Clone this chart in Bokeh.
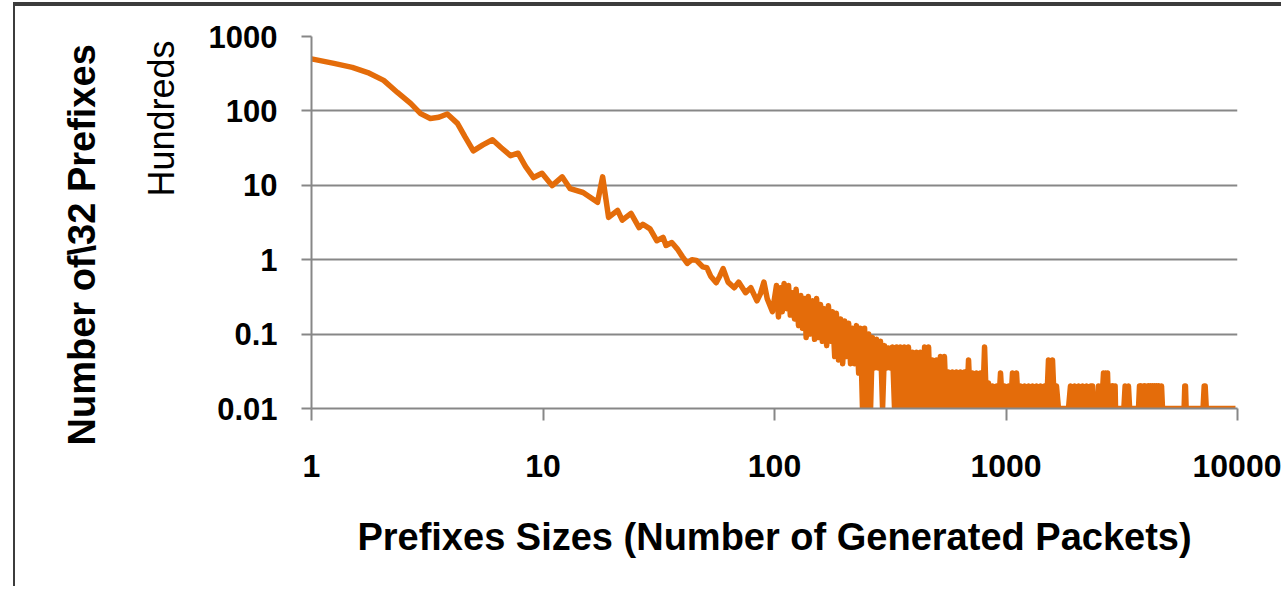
import math
from bokeh.plotting import figure
from bokeh.models import FixedTicker, Title, Range1d
from bokeh.embed import file_html
from bokeh.resources import INLINE

# ---- data: prefix size (packets) vs number of /32 prefixes (hundreds) ----
head_x = [1, 1.25, 1.5, 1.75, 2.05, 2.35, 2.68, 2.96, 3.26, 3.55, 3.86, 4.27, 4.6, 5.0,
          5.5, 6.05, 6.6, 7.24, 7.8, 8.4, 9.1, 9.9, 10.95, 12.1, 13.1, 14.9, 17.2, 18.1, 19.2]
head_y = [500, 435, 385, 328, 257, 177, 126, 92, 79, 82, 91, 68, 45, 29,
          35, 41, 32, 25, 27, 18, 12.7, 14.5, 9.9, 13, 9.0, 8.0, 5.9, 13, 3.7]

mid_x = [21, 22, 24, 26, 27, 29, 31, 33, 34, 36, 38, 40, 42, 44, 46, 49, 51, 53, 56, 58,
         60, 63, 67, 70, 75, 79, 84, 87, 90, 93, 98]
mid_y = [4.6, 3.4, 4.2, 2.7, 3.0, 2.6, 1.8, 2.0, 1.55, 1.7, 1.4, 1.1, 0.89, 1.0, 0.98, 0.8,
         0.78, 0.6, 0.49, 0.6, 0.76, 0.5, 0.42, 0.5, 0.36, 0.42, 0.28, 0.35, 0.5, 0.3, 0.2]

band_x = [102, 104, 106, 108, 110, 113, 115, 117, 120, 122, 124, 127, 130, 132, 135, 137,
          140, 143, 146, 149, 152, 155, 158, 161, 164, 168, 171, 175, 178, 182, 185, 189,
          193, 197, 201, 205, 209, 213, 217, 222, 226, 231, 235]
band_y = [0.45, 0.17, 0.42, 0.2, 0.48, 0.22, 0.45, 0.18, 0.36, 0.16, 0.4, 0.13, 0.33, 0.12,
          0.3, 0.09, 0.32, 0.1, 0.28, 0.085, 0.3, 0.09, 0.25, 0.08, 0.22, 0.07, 0.24, 0.08,
          0.2, 0.05, 0.19, 0.045, 0.16, 0.04, 0.15, 0.05, 0.14, 0.04, 0.12, 0.04, 0.13, 0.03,
          0.12]

tail_x = [240, 245, 250, 255, 260, 265, 270, 276, 281, 287, 293, 299, 305, 311, 317, 323,
          330, 337, 343, 350, 357, 364, 372, 379, 387, 395, 403, 411, 419, 427, 436, 445,
          454, 463, 472, 481, 491, 501, 511, 521, 532, 542, 553, 564, 576, 587, 599, 611,
          624, 636, 649, 662, 675, 689, 703, 717, 731, 746, 761, 776, 792, 808, 824, 840,
          857, 874, 892, 910, 928, 947, 966, 985, 1005, 1025, 1046, 1067, 1088, 1110, 1132,
          1155, 1178, 1202, 1226, 1251, 1276, 1301, 1328, 1354, 1381, 1409, 1437, 1466, 1496,
          1526, 1557, 1588, 1620, 1652, 1685]
tail_y = [0.01, 0.12, 0.01, 0.10, 0.01, 0.09, 0.035, 0.085, 0.035, 0.08, 0.01, 0.07,
          0.035, 0.065, 0.035, 0.067, 0.01, 0.067, 0.01, 0.067, 0.01, 0.067, 0.01, 0.067,
          0.01, 0.057, 0.01, 0.057, 0.01, 0.057, 0.01, 0.067, 0.01, 0.067, 0.01, 0.045,
          0.01, 0.045, 0.01, 0.05, 0.01, 0.05, 0.01, 0.031, 0.01, 0.031, 0.01, 0.031,
          0.01, 0.031, 0.01, 0.031, 0.01, 0.045, 0.01, 0.03, 0.01, 0.03, 0.01, 0.03,
          0.01, 0.067, 0.01, 0.022, 0.01, 0.02, 0.01, 0.02, 0.01, 0.03, 0.01, 0.02,
          0.01, 0.02, 0.01, 0.03, 0.01, 0.03, 0.01, 0.02, 0.01, 0.02, 0.01, 0.02,
          0.01, 0.02, 0.01, 0.02, 0.01, 0.02, 0.01, 0.02, 0.01, 0.045, 0.01, 0.045,
          0.01, 0.02, 0.01]

far_x = [1862, 1899, 1938, 1977, 2016, 2057, 2098, 2140, 2183, 2227, 2272, 2318, 2364, 2388,
         2485, 2510, 2535, 2560, 2586, 2638, 2664, 2691, 2718, 2745, 2773, 2800, 2828, 2856,
         2885, 2914, 2943, 2960, 2972,
         3230, 3270, 3330, 3380, 3420,
         3736, 3773, 3811, 3850, 3888, 3927, 3966, 4006, 4046, 4086, 4127, 4168, 4210, 4252,
         4295, 4338, 4381, 4425, 4469, 4514, 4559, 4605, 4651, 4697, 4743,
         5880, 5920, 5960, 6000,
         7100, 7180, 7250, 7330,
         9800]
far_y = [0.01, 0.02, 0.01, 0.02, 0.01, 0.02, 0.01, 0.02, 0.01, 0.02, 0.01, 0.02, 0.02, 0.01,
         0.01, 0.02, 0.01, 0.02, 0.01, 0.03, 0.01, 0.03, 0.01, 0.03, 0.01, 0.02, 0.01, 0.02,
         0.01, 0.02, 0.01, 0.02, 0.01,
         0.01, 0.02, 0.01, 0.02, 0.01,
         0.01, 0.02, 0.01, 0.02, 0.01, 0.02, 0.01, 0.02, 0.01, 0.02, 0.01, 0.02, 0.01, 0.02,
         0.01, 0.02, 0.01, 0.02, 0.01, 0.02, 0.01, 0.02, 0.01, 0.02, 0.01,
         0.01, 0.02, 0.02, 0.01,
         0.01, 0.02, 0.02, 0.01,
         0.01]

x_ticks = [1, 10, 100, 1000, 10000]
x_tick_labels = ["1", "10", "100", "1000", "10000"]
y_ticks = [0.01, 0.1, 1, 10, 100, 1000]
y_tick_labels = ["0.01", "0.1", "1", "10", "100", "1000"]

x_title = "Prefixes Sizes (Number of Generated Packets)"
y_title = "Number of\\32 Prefixes"
unit_label = "Hundreds"

xs = head_x + mid_x + band_x + tail_x + far_x
ys = head_y + mid_y + band_y + tail_y + far_y

FONT = "Liberation Sans"
GRID = "#878787"
ORANGE = "#E46C0A"

p = figure(width=1268, height=582, x_axis_type="log", y_axis_type="log",
           x_range=Range1d(1, 10000), y_range=Range1d(0.01, 1000),
           output_backend="svg", toolbar_location=None,
           min_border_left=296, min_border_right=46, min_border_top=30, min_border_bottom=180)
p.margin = (4, 0, 0, 13)
p.styles = {"border-left": "2px solid #3c3c3c", "border-top": "2px solid #3c3c3c",
            "box-shadow": "0 -2px 0 0 #3c3c3c"}
p.outline_line_color = None
p.background_fill_color = "white"
p.border_fill_color = "white"

p.line(xs, ys, line_color=ORANGE, line_width=5.5, line_join="round")

p.xgrid.grid_line_color = None
p.ygrid.grid_line_color = GRID
p.ygrid.grid_line_width = 2

p.xaxis.ticker = FixedTicker(ticks=x_ticks)
p.yaxis.ticker = FixedTicker(ticks=y_ticks)
p.xaxis.major_label_overrides = dict(zip(x_ticks, x_tick_labels))
p.yaxis.major_label_overrides = dict(zip(y_ticks, y_tick_labels))

for ax in (p.xaxis, p.yaxis):
    ax.axis_line_color = GRID
    ax.axis_line_width = 2
    ax.major_tick_line_color = GRID
    ax.major_tick_line_width = 2
    ax.major_tick_in = 0
    ax.minor_tick_line_color = None
    ax.major_label_text_font = FONT
    ax.major_label_text_font_style = "bold"
    ax.major_label_text_color = "black"

p.xaxis.major_tick_out = 12
p.xaxis.major_label_standoff = 34
p.xaxis.major_label_text_font_size = "32px"
p.yaxis.major_tick_out = 10
p.yaxis.major_label_standoff = 24
p.yaxis.major_label_text_font_size = "31px"

p.xaxis.axis_label = x_title
p.xaxis.axis_label_text_font = FONT
p.xaxis.axis_label_text_font_style = "bold"
p.xaxis.axis_label_text_font_size = "38px"
p.xaxis.axis_label_text_color = "black"
p.xaxis.axis_label_standoff = 36

# display-unit label next to the y tick labels, then the y-axis title further out
p.add_layout(Title(text=unit_label, align="right", offset=4, standoff=47,
                   text_font=FONT, text_font_style="normal", text_font_size="36px",
                   text_color="black"), "left")
p.add_layout(Title(text=y_title, align="left", offset=-37, standoff=25,
                   text_font=FONT, text_font_style="bold", text_font_size="38px",
                   text_color="black"), "left")

open("out.html", "w").write(file_html(p, INLINE))
